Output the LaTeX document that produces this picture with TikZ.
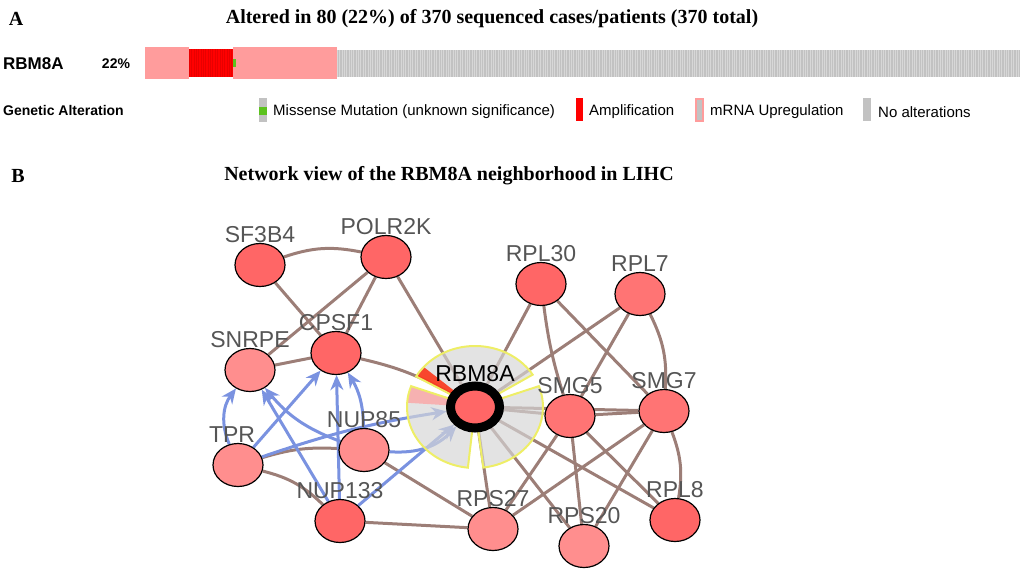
\documentclass[tikz,border=0pt]{standalone}
\usepackage{fontspec}
\setmainfont{Liberation Serif}
\setsansfont{Liberation Sans}
\usetikzlibrary{shapes.geometric,arrows.meta}
\pgfdeclarelayer{edges}
\pgfdeclarelayer{pie}
\pgfsetlayers{edges,pie,main}
\definecolor{genedark}{HTML}{FF6666}
\definecolor{genemid}{HTML}{FF7474}
\definecolor{genelight}{HTML}{FF8E8E}
\definecolor{labelgray}{HTML}{555555}
\definecolor{edgebrown}{HTML}{9C7E77}
\definecolor{edgeblue}{HTML}{7A92E0}
\definecolor{upreg}{HTML}{FF9C9C}
\definecolor{ampred}{HTML}{FF0000}
\definecolor{noalt}{HTML}{C2C2C2}
\definecolor{missgreen}{HTML}{5CC21E}
\definecolor{piegray}{HTML}{D6D6D6}
\definecolor{pieline}{HTML}{EEEE66}
\newcommand{\fsz}[1]{\fontsize{#1}{#1}\selectfont}

\begin{document}
\begin{tikzpicture}[x=1pt,y=-1pt,
  gene/.style={ellipse,draw=black,line width=1.2pt,minimum width=50pt,minimum height=43pt,inner sep=0pt,label distance=5pt},
  lbl/.style={font=\sffamily\fsz{23},text=labelgray,inner sep=0pt},
  ppi/.style={draw=edgebrown,line width=3pt},
  ctl/.style={draw=edgeblue,line width=3pt,-{Stealth[length=15pt,width=13pt]}},
  sector/.style={fill=piegray,fill opacity=0.68},
  rim/.style={draw=pieline,line width=2pt},
  legtext/.style={font=\sffamily\fsz{15},anchor=west,inner sep=0pt},
  title/.style={font=\bfseries\fsz{20},inner sep=0pt}]
\useasboundingbox (0,0) rectangle (1020,576);

% panel A
\node[title] (capa) at (16,19) {A};
\node[title] (titlea) at (492,19) {Altered in 80 (22\%) of 370 sequenced cases/patients (370 total)};
\node[font=\sffamily\bfseries\fsz{17},anchor=west,inner sep=0pt] (gname) at (3,64) {RBM8A};
\node[font=\sffamily\bfseries\fsz{14},inner sep=0pt] (pct) at (116,64) {22\%};
\fill[upreg] (145,47) rectangle (189,79);
\fill[ampred] (189,49) rectangle (233,77);
\foreach \i in {0,...,18}
  \draw[red!75!black,opacity=0.35,line width=0.4pt] ({189+2.365*\i},49) -- ++(0,28);
\fill[upreg] (233,47) rectangle (337,79);
\fill[missgreen] (233,59) rectangle (236,67);
\fill[noalt] (337,50) rectangle (1020,77);
\foreach \i in {0,...,288}
  \draw[white,opacity=0.35,line width=0.4pt] ({337+2.365*\i},50) -- ++(0,27);

\node[font=\sffamily\bfseries\fsz{14},anchor=west,inner sep=0pt] (galt) at (3,110) {Genetic Alteration};
\fill[noalt] (259,98) rectangle (267,122);
\fill[missgreen] (259,107) rectangle (267,115);
\node[legtext] (lmiss) at (273,112) {Missense Mutation (unknown significance)};
\fill[ampred] (576,98) rectangle (583,121);
\node[legtext] (lamp) at (589,112) {Amplification};
\filldraw[fill=noalt,draw=upreg,line width=1.2pt] (696,99) rectangle (703,121);
\node[legtext] (lup) at (710,112) {mRNA Upregulation};
\fill[noalt] (863,98) rectangle (871,121);
\node[legtext] (lno) at (878,112) {No alterations};

% panel B
\node[title] (capb) at (18,176) {B};
\node[title] (titleb) at (449,176) {Network view of the RBM8A neighborhood in LIHC};

\node[gene,fill=genedark,label={[lbl]above:SF3B4}] (sf3b4) at (260,265) {};
\node[gene,fill=genedark,label={[lbl]above:POLR2K}] (polr2k) at (386,257) {};
\node[gene,fill=genedark,label={[lbl]above:CPSF1}] (cpsf1) at (336,353) {};
\node[gene,fill=genelight,label={[lbl]above:SNRPE}] (snrpe) at (250,370) {};
\node[gene,fill=genelight,label={[lbl,xshift=-6pt]above:TPR}] (tpr) at (238,465) {};
\node[gene,fill=genelight,label={[lbl]above:NUP85}] (nup85) at (364,450) {};
\node[gene,fill=genedark,label={[lbl]above:NUP133}] (nup133) at (340,521) {};
\node[gene,fill=genelight,label={[lbl]above:RPS27}] (rps27) at (493,529) {};
\node[gene,fill=genedark,label={[lbl]above:RPL30}] (rpl30) at (541,284) {};
\node[gene,fill=genemid,label={[lbl]above:RPL7}] (rpl7) at (640,294) {};
\node[gene,fill=genemid,label={[lbl]above:SMG5}] (smg5) at (570,416) {};
\node[gene,fill=genemid,label={[lbl]above:SMG7}] (smg7) at (664,411) {};
\node[gene,fill=genedark,label={[lbl]above:RPL8}] (rpl8) at (675,520) {};
\node[gene,fill=genelight,label={[lbl]above:RPS20}] (rps20) at (584,546) {};
\node[gene,fill=genedark,line width=9pt,minimum width=49pt,minimum height=42pt,
  label={[lbl,text=black]above:RBM8A}] (rbm) at (475,407) {};

\begin{pgfonlayer}{pie}
\fill[sector] (rbm.center) -- ++(-32:68 and 61) arc[start angle=-32,end angle=-150,x radius=68,y radius=61] -- cycle;
\fill[ampred!75!orange,opacity=0.8] (rbm.center) -- ++(-139:68 and 61) arc[start angle=-139,end angle=-150,x radius=68,y radius=61] -- cycle;
\draw[rim] (rbm.center) -- ++(-32:68 and 61) arc[start angle=-32,end angle=-150,x radius=68,y radius=61] -- cycle;
\fill[sector] (rbm.center) -- ++(-160:68 and 61) arc[start angle=-160,end angle=-264,x radius=68,y radius=61] -- cycle;
\fill[upreg,opacity=0.7] (rbm.center) -- ++(-160:68 and 61) arc[start angle=-160,end angle=-176,x radius=68,y radius=61] -- cycle;
\draw[rim] (rbm.center) -- ++(-160:68 and 61) arc[start angle=-160,end angle=-264,x radius=68,y radius=61] -- cycle;
\fill[sector] (rbm.center) -- ++(-277:68 and 61) arc[start angle=-277,end angle=-380,x radius=68,y radius=61] -- cycle;
\draw[rim] (rbm.center) -- ++(-277:68 and 61) arc[start angle=-277,end angle=-380,x radius=68,y radius=61] -- cycle;
\end{pgfonlayer}

\begin{pgfonlayer}{edges}
\draw[ppi] (sf3b4) to[bend left=15] (polr2k);
\draw[ppi] (sf3b4) -- (cpsf1);
\draw[ppi] (polr2k) -- (snrpe);
\draw[ppi] (polr2k) -- (cpsf1);
\draw[ppi] (polr2k) -- (rbm);
\draw[ppi] (snrpe) -- (cpsf1);
\draw[ppi] (cpsf1) to[bend left=8] (rbm);
\draw[ppi] (tpr) to[bend left=10] (nup85);
\draw[ppi] (tpr) to[bend left=15] (nup133);
\draw[ppi] (nup85) -- (rps27);
\draw[ppi] (nup133) -- (rps27);
\draw[ppi] (rbm) -- (rps27);
\draw[ppi] (rbm) -- (rpl30);
\draw[ppi] (rbm) -- (rpl7);
\draw[ppi] (rbm) -- (smg5);
\draw[ppi] (rbm) -- (smg7);
\draw[ppi] (rbm) -- (rps20);
\draw[ppi] (rbm) -- (rpl8);
\draw[ppi] (rpl30) to[bend right=5] (smg5);
\draw[ppi] (rpl30) -- (smg7);
\draw[ppi] (rpl7) -- (smg5);
\draw[ppi] (rpl7) to[bend left=15] (smg7);
\draw[ppi] (smg5) -- (smg7);
\draw[ppi] (smg5) -- (rps27);
\draw[ppi] (smg5) -- (rps20);
\draw[ppi] (smg5) -- (rpl8);
\draw[ppi] (smg7) -- (rps27);
\draw[ppi] (smg7) -- (rps20);
\draw[ppi] (smg7) to[bend left=15] (rpl8);
\draw[ctl] (tpr) to[bend left=30] (snrpe);
\draw[ctl] (tpr) -- (cpsf1);
\draw[ctl] (nup85) to[bend left=15] (snrpe);
\draw[ctl] (nup133) -- (snrpe);
\draw[ctl] (nup133) -- (cpsf1);
\draw[ctl] (nup85) to[bend right=15] (cpsf1);
\draw[ctl] (tpr) to[bend left=5] (rbm);
\draw[ctl] (nup85) to[bend right=25] (rbm);
\draw[ctl] (nup133) -- (rbm);
\end{pgfonlayer}
\end{tikzpicture}
\end{document}
